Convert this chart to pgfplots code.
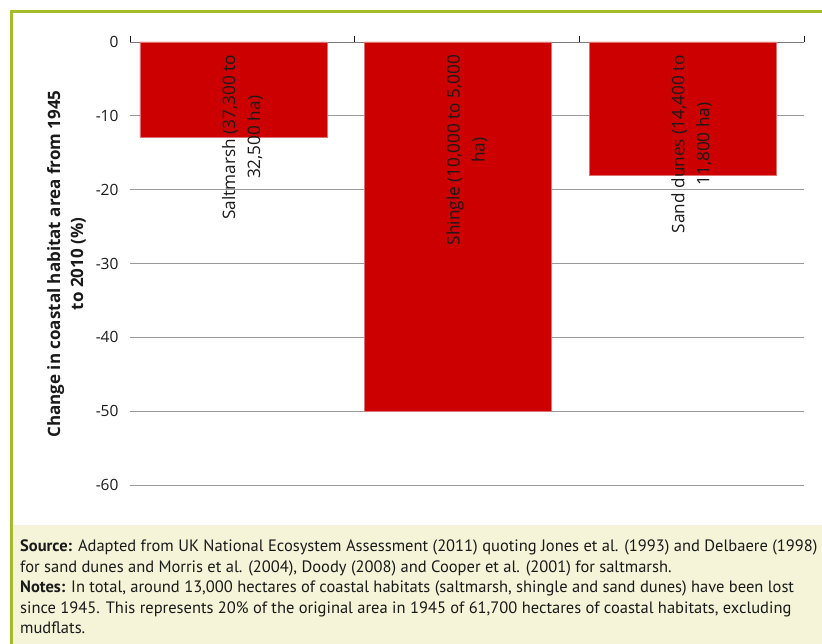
\documentclass[border=0pt]{standalone}
\usepackage{pgfplots}
\pgfplotsset{compat=1.18}
\usepackage{fontspec}
\setmainfont{PT Sans}
\newfontfamily\chartfont{Open Sans}

\definecolor{barred}{HTML}{CC0000}
\definecolor{baredge}{HTML}{E07070}
\definecolor{framegreen}{HTML}{A4BC2C}
\definecolor{notecream}{HTML}{F5F4D8}
\definecolor{gridgray}{HTML}{9A9A9A}
\definecolor{txt}{HTML}{1A1A1A}

\begin{document}
\begin{tikzpicture}
  % page extent
  \path[use as bounding box] (0pt,0pt) rectangle (822pt,644pt);
  % notes panel
  \fill[notecream] (12.5pt,0pt) rectangle (822pt,119pt);
  % frame
  \draw[framegreen, line width=3pt] (11pt,0pt) -- (11pt,632.5pt) -- (822pt,632.5pt);

  \begin{axis}[
    at={(130pt,159pt)}, anchor=south west,
    scale only axis, width=674pt, height=443pt,
    xmin=0, xmax=3, ymin=-60, ymax=0,
    axis x line*=top, axis y line*=left,
    y axis line style={draw=none},
    x axis line style={draw=gridgray!80!black, line width=0.8pt},
    xtick={0,1,2,3}, xticklabels={},
    x tick style={draw=txt, line width=0.8pt},
    major tick length=6pt, tick align=outside,
    ytick={-60,-50,...,0},
    y tick style={draw=none},
    ymajorgrids, major grid style={draw=gridgray, line width=0.8pt},
    yticklabel style={font=\chartfont\fontsize{15.5}{17}\selectfont, text=txt, xshift=-2pt},
    /pgf/number format/assume math mode=true,
    clip=false,
  ]
    \addplot[ybar, bar width=187pt, bar shift=-9pt, fill=barred, draw=baredge, line width=0.6pt]
      coordinates {(0.5,-12.9) (1.5,-50) (2.5,-18)};

    \begin{scope}[every node/.style={rotate=90, anchor=east, align=center, inner sep=0pt,
        font=\chartfont\fontsize{17.2}{25}\selectfont, text=txt}]
      \node at (axis cs:0.5,-1.75) {Saltmarsh (37,300 to\\32,500 ha)};
      \node at (axis cs:1.5,-1.75) {Shingle (10,000 to 5,000\\ha)};
      \node at (axis cs:2.5,-1.75) {Sand dunes (14,400 to\\11,800 ha)};
    \end{scope}
  \end{axis}

  % value axis title
  \node[rotate=90, align=center, font=\chartfont\fontsize{17}{23}\selectfont\bfseries, text=txt]
    at (66.5pt,380pt) {Change in coastal habitat area from 1945\\to 2010 (\%)};

  % notes text
  \node[anchor=north west, align=left, inner sep=0pt, text=txt,
        font=\fontsize{16.5}{20.5}\selectfont] at (20pt,104pt)
    {\textbf{Source:} Adapted from UK National Ecosystem Assessment (2011) quoting Jones et al. (1993) and Delbaere (1998)\\
     for sand dunes and Morris et al. (2004), Doody (2008) and Cooper et al. (2001) for saltmarsh.\\
     \textbf{Notes:} In total, around 13,000 hectares of coastal habitats (saltmarsh, shingle and sand dunes) have been lost\\
     since 1945. This represents 20\% of the original area in 1945 of 61,700 hectares of coastal habitats, excluding\\
     mudflats.};
\end{tikzpicture}
\end{document}
